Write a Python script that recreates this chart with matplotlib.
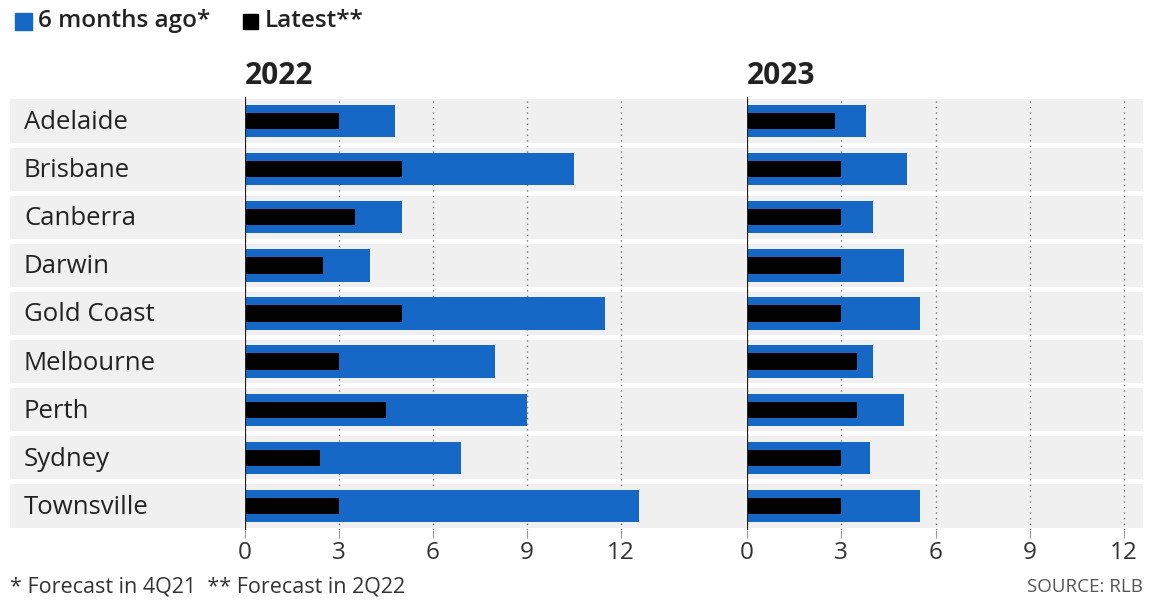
import matplotlib.pyplot as plt
from matplotlib.patches import Rectangle

plt.rcParams['font.family'] = ['Open Sans', 'DejaVu Sans']

# Data
cities = ['Adelaide', 'Brisbane', 'Canberra', 'Darwin', 'Gold Coast',
          'Melbourne', 'Perth', 'Sydney', 'Townsville']
ago_2022 = [4.8, 10.5, 5.0, 4.0, 11.5, 8.0, 9.0, 6.9, 12.6]
latest_2022 = [3.0, 5.0, 3.5, 2.5, 5.0, 3.0, 4.5, 2.4, 3.0]
ago_2023 = [3.8, 5.1, 4.0, 5.0, 5.5, 4.0, 5.0, 3.9, 5.5]
latest_2023 = [2.8, 3.0, 3.0, 3.0, 3.0, 3.5, 3.5, 3.0, 3.0]
ticks = [0, 3, 6, 9, 12]

BLUE = '#1668c7'
BAND = '#f0f0f0'
W, H = 1151, 601

fig = plt.figure(figsize=(W / 100, H / 100), dpi=100)

def rect(x0, x1, y0, y1):
    return [x0 / W, 1 - y1 / H, (x1 - x0) / W, (y1 - y0) / H]

ypos = list(range(len(cities)))

# Grey row bands across the whole width
bg = fig.add_axes(rect(10, 1143, 97, 530), zorder=0)
bg.barh(ypos, [1] * len(cities), height=0.9, color=BAND, left=0)
bg.set_xlim(0, 1)
bg.set_ylim(8.5, -0.5)
bg.axis('off')

for i, c in enumerate(cities):
    bg.text(14 / 1133, i + 0.03, c, ha='left', va='center', fontsize=18.5,
            color='#222222')

panels = [
    ('2022', ago_2022, latest_2022, rect(245, 652, 97, 530), 13),
    ('2023', ago_2023, latest_2023, rect(747, 1143, 97, 530), 12.6),
]

for title, ago, latest, pos, xmax in panels:
    ax = fig.add_axes(pos, zorder=1)
    ax.set_facecolor('none')
    ax.set_axisbelow(True)
    ax.barh(ypos, ago, height=0.67, color=BLUE, zorder=2)
    ax.barh(ypos, latest, height=0.34, color='black', zorder=3)
    ax.axvline(0, color='#222222', lw=1.6, zorder=4)
    ax.set_xlim(0, xmax)
    ax.set_ylim(8.5, -0.5)
    ax.set_xticks(ticks)
    ax.set_yticks([])
    ax.xaxis.grid(True, linestyle=(0, (1, 3)), color='#777777', lw=1)
    ax.tick_params(axis='x', length=6, color='#999999', labelsize=17.5,
                   labelcolor='#333333', pad=2)
    for s in ax.spines.values():
        s.set_visible(False)
    ax.text(0, -0.62, title, ha='left', va='bottom', fontsize=21.5,
            fontweight='bold', color='#222222')

# Legend
fig.patches.append(Rectangle((15 / W, 1 - 30 / H), 17 / W, 17 / H,
                             transform=fig.transFigure, color=BLUE))
fig.text(38 / W, 1 - 21 / H, '6 months ago*', fontsize=17.5, fontweight='semibold',
         color='#222222', va='center', ha='left')
fig.patches.append(Rectangle((243 / W, 1 - 29 / H), 15 / W, 15 / H,
                             transform=fig.transFigure, color='black'))
fig.text(265 / W, 1 - 21 / H, 'Latest**', fontsize=17.5, fontweight='semibold',
         color='#222222', va='center', ha='left')

# Footer
fig.text(10 / W, 1 - 587 / H, '* Forecast in 4Q21  ** Forecast in 2Q22',
         fontsize=15.5, color='#333333', va='center', ha='left')
fig.text(1143 / W, 1 - 587 / H, 'SOURCE: RLB', fontsize=13.5, color='#555555',
         va='center', ha='right')

fig.savefig('out.png', dpi=100)
